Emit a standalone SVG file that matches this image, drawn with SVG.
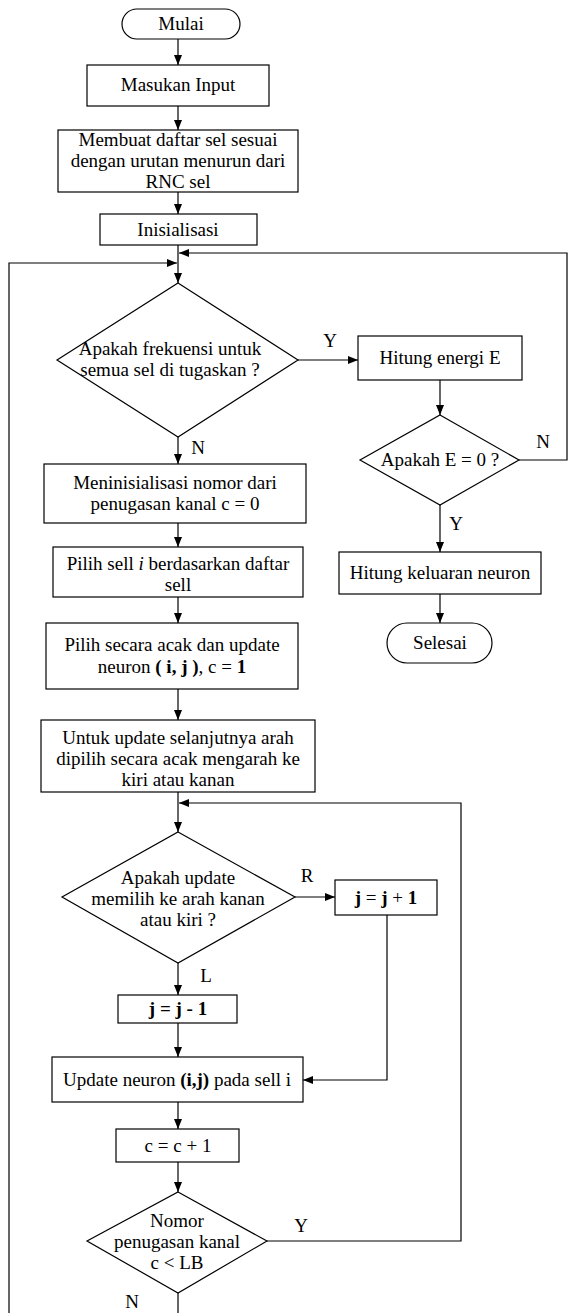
<svg xmlns="http://www.w3.org/2000/svg" width="568" height="1313" viewBox="0 0 568 1313">
<style>
.s{fill:#fff;stroke:#000;stroke-width:1.2}
.c{fill:none;stroke:#000;stroke-width:1.2}
text{font-family:"Liberation Serif","Times New Roman",serif;font-size:19px;fill:#000;text-anchor:middle}
.b{font-weight:bold}
.i{font-style:italic}
</style>
<defs>
<marker id="a" markerUnits="userSpaceOnUse" markerWidth="11" markerHeight="9" refX="10" refY="4" orient="auto">
<path d="M0,0 L10,4 L0,8 z" fill="#000"/>
</marker>
</defs>
<rect width="568" height="1313" fill="#fff"/>
<g id="connectors">
<line class="c" x1="178" y1="39" x2="178" y2="65" marker-end="url(#a)"/>
<line class="c" x1="178" y1="106" x2="178" y2="130" marker-end="url(#a)"/>
<line class="c" x1="178" y1="192" x2="178" y2="214" marker-end="url(#a)"/>
<line class="c" x1="178" y1="245" x2="178" y2="283" marker-end="url(#a)"/>
<polyline class="c" points="519,460 567,460 567,253 179,253" marker-end="url(#a)"/>
<polyline class="c" points="9,1313 9,263 177,263" marker-end="url(#a)"/>
<line class="c" x1="298" y1="360" x2="358" y2="360" marker-end="url(#a)"/>
<line class="c" x1="440" y1="380" x2="440" y2="415" marker-end="url(#a)"/>
<line class="c" x1="440" y1="505" x2="440" y2="552" marker-end="url(#a)"/>
<line class="c" x1="440" y1="594" x2="440" y2="623" marker-end="url(#a)"/>
<line class="c" x1="178" y1="437" x2="178" y2="464" marker-end="url(#a)"/>
<line class="c" x1="178" y1="523" x2="178" y2="547" marker-end="url(#a)"/>
<line class="c" x1="178" y1="597" x2="178" y2="623" marker-end="url(#a)"/>
<line class="c" x1="178" y1="689" x2="178" y2="720" marker-end="url(#a)"/>
<line class="c" x1="178" y1="792" x2="178" y2="832" marker-end="url(#a)"/>
<polyline class="c" points="267,1241 461,1241 461,803 179,803" marker-end="url(#a)"/>
<line class="c" x1="295" y1="897" x2="335" y2="897" marker-end="url(#a)"/>
<line class="c" x1="178" y1="963" x2="178" y2="995" marker-end="url(#a)"/>
<line class="c" x1="178" y1="1023" x2="178" y2="1057" marker-end="url(#a)"/>
<polyline class="c" points="387,915 387,1080 303,1080" marker-end="url(#a)"/>
<line class="c" x1="178" y1="1102" x2="178" y2="1129" marker-end="url(#a)"/>
<line class="c" x1="178" y1="1162" x2="178" y2="1192" marker-end="url(#a)"/>
<line class="c" x1="178" y1="1293" x2="178" y2="1313"/>
<text x="330" y="347">Y</text>
<text x="198" y="454">N</text>
<text x="543" y="448">N</text>
<text x="456" y="530">Y</text>
<text x="307" y="882">R</text>
<text x="206" y="982">L</text>
<text x="301" y="1232">Y</text>
<text x="132" y="1308">N</text>
</g>
<g id="mulai"><rect class="s" x="122" y="9" width="118" height="30" rx="15"/><text x="181" y="30">Mulai</text></g>
<g id="input"><rect class="s" x="87" y="65" width="182" height="41"/><text x="178" y="91">Masukan Input</text></g>
<g id="daftar"><rect class="s" x="58" y="130" width="240" height="62"/>
<text x="178" y="146">Membuat daftar sel sesuai</text><text x="178" y="167">dengan urutan menurun dari</text><text x="178" y="188">RNC sel</text></g>
<g id="inisialisasi"><rect class="s" x="100" y="214" width="157" height="31"/><text x="178" y="236">Inisialisasi</text></g>
<g id="cek-frekuensi"><polygon class="s" points="178,283 298,360 178,437 57,360"/>
<text x="170" y="355">Apakah frekuensi untuk</text><text x="170" y="376">semua sel di tugaskan ?</text></g>
<g id="hitung-energi"><rect class="s" x="358" y="336" width="164" height="44"/><text x="440" y="364">Hitung energi E</text></g>
<g id="cek-energi"><polygon class="s" points="440,415 519,460 440,505 360,460"/><text x="440" y="466">Apakah E = 0 ?</text></g>
<g id="hitung-keluaran"><rect class="s" x="339" y="552" width="202" height="42"/><text x="440" y="579">Hitung keluaran neuron</text></g>
<g id="selesai"><rect class="s" x="387" y="623" width="105" height="40" rx="20"/><text x="440" y="649">Selesai</text></g>
<g id="init-nomor"><rect class="s" x="44" y="464" width="262" height="59"/>
<text x="175" y="489">Meninisialisasi nomor dari</text><text x="175" y="510">penugasan kanal c = 0</text></g>
<g id="pilih-sell"><rect class="s" x="53" y="547" width="250" height="50"/>
<text x="178" y="570">Pilih sell <tspan class="i">i</tspan> berdasarkan daftar</text><text x="178" y="591">sell</text></g>
<g id="pilih-acak"><rect class="s" x="46" y="623" width="252" height="66"/>
<text x="172" y="651">Pilih secara acak dan update</text><text x="172" y="673">neuron <tspan class="b">( i, j )</tspan>, c = <tspan class="b">1</tspan></text></g>
<g id="arah"><rect class="s" x="41" y="720" width="274" height="72"/>
<text x="178" y="744">Untuk update selanjutnya arah</text><text x="178" y="765">dipilih secara acak mengarah ke</text><text x="178" y="786">kiri atau kanan</text></g>
<g id="cek-arah"><polygon class="s" points="178,832 295,897 178,963 62,897"/>
<text x="178" y="884">Apakah update</text><text x="178" y="905">memilih ke arah kanan</text><text x="178" y="926">atau kiri ?</text></g>
<g id="j-plus"><rect class="s" x="335" y="880" width="102" height="35"/><text x="386" y="904"><tspan class="b">j</tspan> = <tspan class="b">j</tspan> + <tspan class="b">1</tspan></text></g>
<g id="j-minus"><rect class="s" x="118" y="995" width="119" height="28"/><text x="178" y="1015" class="b">j = j - 1</text></g>
<g id="update-neuron"><rect class="s" x="52" y="1057" width="251" height="45"/>
<text x="177" y="1086">Update neuron <tspan class="b">(i,j)</tspan> pada sell i</text></g>
<g id="c-plus"><rect class="s" x="116" y="1129" width="123" height="33"/><text x="178" y="1152">c = c + 1</text></g>
<g id="cek-lb"><polygon class="s" points="178,1192 267,1241 178,1293 87,1241"/>
<text x="177" y="1227">Nomor</text><text x="177" y="1248">penugasan kanal</text><text x="177" y="1269">c &lt; LB</text></g>
</svg>
